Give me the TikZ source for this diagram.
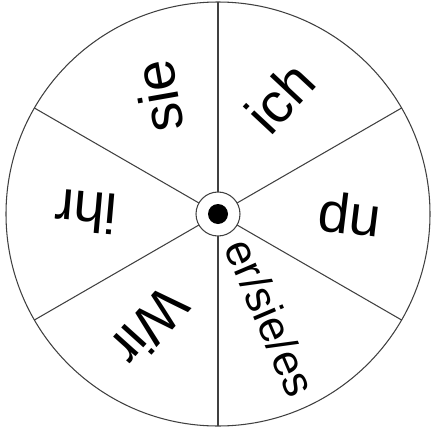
\documentclass[tikz,border=0pt]{standalone}
\usepackage{fontspec}
\setmainfont{Liberation Sans}
\usetikzlibrary{calc}

\begin{document}
\begin{tikzpicture}
    % Define the radii of the wheel and of the hub
    \def\radius{4.24}
    \def\hub{0.44}
    \def\labelr{2.64}

    \useasboundingbox (-4.36,-4.32) rectangle (4.28,4.28);

    % Draw the outer circle
    \draw[line width=0.6pt, black!75] (0,0) circle[radius=\radius];

    % Draw the six spokes from the hub to the rim
    \foreach \a in {30,90,...,330}
        \draw[line width=0.6pt, black!75] (\a:\hub) -- (\a:\radius);

    % Draw the hub with its dot
    \draw[line width=0.6pt, black!75] (0,0) circle[radius=\hub];
    \fill (0,0) circle[radius=0.2];

    % Place the pronouns in their sectors
    \node[font=\fontsize{32}{32}\selectfont, rotate=-7] (du) at (0:\labelr) {du};
    \node[font=\fontsize{32}{32}\selectfont, rotate=47] (ich) at (62:\labelr) {ich};
    \node[font=\fontsize{32}{32}\selectfont, rotate=100] (sie) at (117:\labelr) {sie};
    \node[font=\fontsize{32}{32}\selectfont, rotate=175] (ihr) at (179:\labelr) {ihr};
    \node[font=\fontsize{32}{32}\selectfont, rotate=228] (wir) at (239:\labelr) {Wir};
    \node[font=\fontsize{25}{25}\selectfont, rotate=293] (ersiees) at (297:2.32) {er/sie/es};

\end{tikzpicture}
\end{document}
